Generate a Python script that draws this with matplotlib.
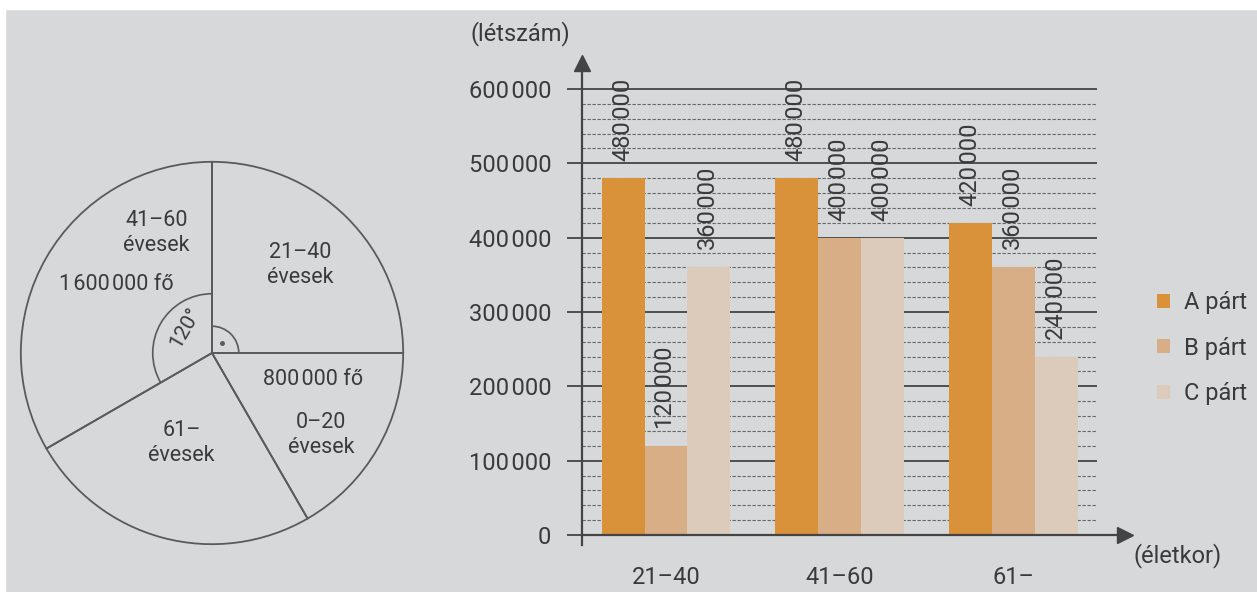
import numpy as np
import matplotlib
matplotlib.use("Agg")
import matplotlib.pyplot as plt
from matplotlib.patches import Arc, Patch, Rectangle

plt.rcParams['font.family'] = ['Roboto', 'DejaVu Sans']

# pie: age groups, clockwise from 12 o'clock
pie_groups = ['21–40\névesek', '0–20\névesek', '61–\névesek', '41–60\névesek']
pie_people = [1200000, 800000, 1200000, 1600000]

# bars: votes per party by age group
age_groups = ['21–40', '41–60', '61–']
party_names = ['A párt', 'B párt', 'C párt']
party_a = [480000, 480000, 420000]
party_b = [120000, 400000, 360000]
party_c = [360000, 400000, 240000]
party_colors = ['#d9913a', '#d8ae87', '#dccbbb']
yticks = [0, 100000, 200000, 300000, 400000, 500000, 600000]

bg = '#d6d8da'
ink = '#3a3a3a'
line = '#444444'
pie_line = '#5a5a5a'


def fmt(v):
    return f"{v:,}".replace(",", "\u200a")


fig = plt.figure(figsize=(12.57, 5.92), dpi=100, facecolor=bg)
fig.patches.append(Rectangle((0, 1 - 9 / 592), 1, 9 / 592, color='white',
                             transform=fig.transFigure, zorder=-1))
fig.patches.append(Rectangle((0, 0), 5 / 1257, 1, color='white',
                             transform=fig.transFigure, zorder=-1))

# ---------- pie ----------
pax = fig.add_axes([17 / 1257, 44 / 592, 390 / 1257, 390 / 592])
pax.set_facecolor('none')
pax.pie(pie_people, startangle=90, counterclock=False, radius=1,
        wedgeprops=dict(facecolor='none', edgecolor=pie_line, linewidth=1.3))
pax.set_xlim(-1.02, 1.02)
pax.set_ylim(-1.02, 1.02)

pax.add_patch(Arc((0, 0), 0.62, 0.62, theta1=90, theta2=210, color=pie_line, lw=1.2))
pax.add_patch(Arc((0, 0), 0.28, 0.28, theta1=0, theta2=90, color=pie_line, lw=1.2))
pax.plot([0.05], [0.05], 'o', color=pie_line, ms=2.5)
pax.text(-0.14, 0.13, '120°', rotation=60, ha='center', va='center',
         fontsize=15, color=ink)

fs_pie = 15.5
pax.text(0.46, 0.46, pie_groups[0], ha='center', va='center', fontsize=fs_pie,
         color=ink, linespacing=1.25)
pax.text(0.53, -0.14, fmt(pie_people[1]) + ' fő', ha='center', va='center',
         fontsize=fs_pie, color=ink)
pax.text(0.57, -0.43, pie_groups[1], ha='center', va='center', fontsize=fs_pie,
         color=ink, linespacing=1.25)
pax.text(-0.16, -0.47, pie_groups[2], ha='center', va='center', fontsize=fs_pie,
         color=ink, linespacing=1.25)
pax.text(-0.29, 0.63, pie_groups[3], ha='center', va='center', fontsize=fs_pie,
         color=ink, linespacing=1.25)
pax.text(-0.50, 0.36, fmt(pie_people[3]) + ' fő', ha='center', va='center',
         fontsize=fs_pie, color=ink)

# ---------- bars ----------
ax = fig.add_axes([582 / 1257, 57 / 592, 543 / 1257, 472 / 592])
ax.set_facecolor('none')
x = np.arange(len(age_groups))
w = 0.247
xl, xr_grid, xr = -0.483, 2.477, 2.64
ax.set_xlim(xl, xr)
ax.set_ylim(0, 635000)

minor = [v for v in range(20000, 600001, 20000) if v % 100000]
ax.hlines(minor, xl, xr_grid, colors='#666666', linestyles=(0, (3, 1.5)),
          lw=0.8, zorder=1)
ax.hlines(yticks[1:], xl, xr_grid, colors=line, lw=1.3, zorder=1)

for i, vals in enumerate([party_a, party_b, party_c]):
    pos = x + (i - 1) * w
    ax.bar(pos, vals, width=w, color=party_colors[i], zorder=2, label=party_names[i])
    for px_, v in zip(pos, vals):
        ax.annotate(fmt(v), (px_, v), xytext=(0, 17), textcoords='offset pixels',
                    rotation=90, ha='center', va='bottom', fontsize=17, color=ink)

for s in ['top', 'right']:
    ax.spines[s].set_visible(False)
for s in ['left', 'bottom']:
    ax.spines[s].set_color(line)
    ax.spines[s].set_linewidth(1.6)
ax.plot([xl, xl], [-14000, 0], color=line, lw=1.6, clip_on=False)
ax.plot(1, 0, '>', color=line, ms=11, transform=ax.get_yaxis_transform(), clip_on=False)
ax.plot(xl, 1, '^', color=line, ms=11, transform=ax.get_xaxis_transform(), clip_on=False)

ax.set_yticks(yticks)
ax.set_yticklabels([fmt(v) for v in yticks])
ax.tick_params(axis='y', length=11, width=1.3, color=line, pad=11,
               labelsize=17, labelcolor=ink)
ax.set_xticks(x)
ax.set_xticklabels(age_groups)
ax.tick_params(axis='x', length=0, pad=22, labelsize=17, labelcolor=ink)

fig.text(470 / 1257, 1 - 34 / 592, '(létszám)', ha='left', va='center',
         fontsize=17, color=ink)
fig.text(1178 / 1257, 1 - 556 / 592, '(életkor)', ha='center', va='center',
         fontsize=17, color=ink)

handles = [Patch(facecolor=c, edgecolor='none') for c in party_colors]
fig.legend(handles, party_names, loc='upper left',
           bbox_to_anchor=(1136 / 1257, 1 - 270 / 592), frameon=False,
           fontsize=17, labelcolor=ink, handlelength=0.55, handleheight=0.55,
           handletextpad=0.6, labelspacing=0.95)

fig.savefig('out.png', dpi=100, facecolor=bg)
